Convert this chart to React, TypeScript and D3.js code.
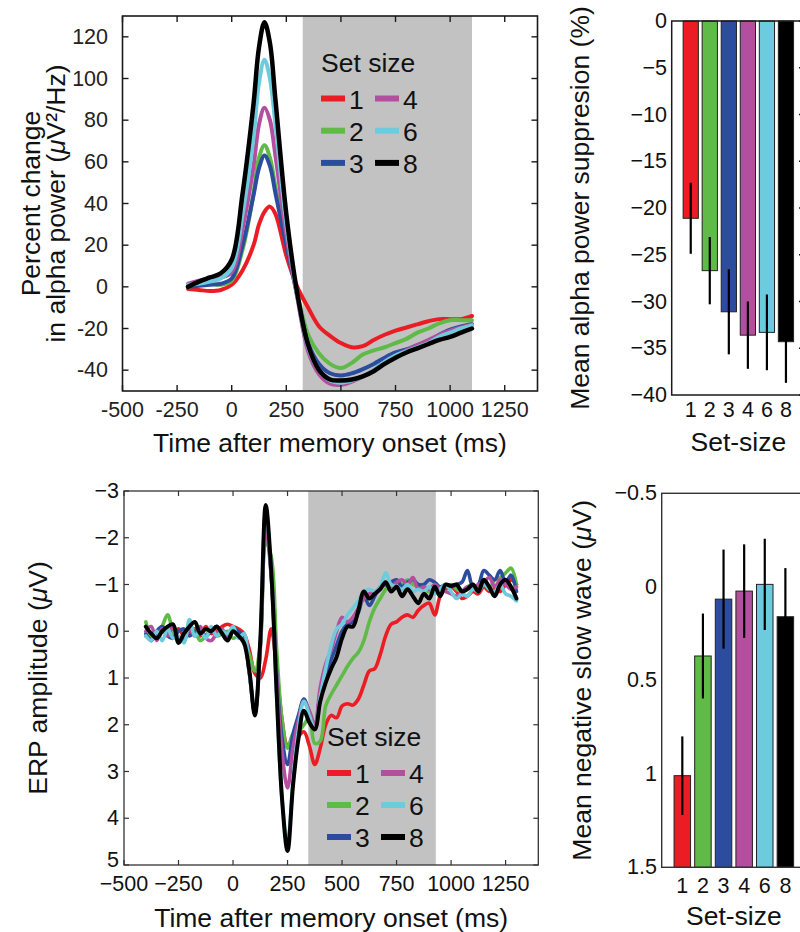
import React from 'react';
import * as d3 from 'd3';

const FONT = "'Liberation Sans', Arial, Helvetica, sans-serif";

const setSizes = ['1', '2', '3', '4', '6', '8'];
const setColors = ['#ec1c24', '#5fba47', '#2c4d9e', '#b44f9f', '#6ccbdc', '#000000'];

// ---------- Top-left: alpha power time course ----------
const alphaTimes = [-200, -150, -100, -50, 0, 50, 100, 125, 150, 175, 200, 250, 300, 350, 400, 450, 500, 550, 600, 650, 700, 750, 800, 850, 900, 950, 1000, 1050, 1100];
const alphaSet1 = [-1, -1.5, -2, -1.5, 1, 8, 20, 30, 36, 38.5, 35, 15, 0, -10, -19, -23.5, -27, -29, -28.5, -25.5, -23, -21, -19.5, -18, -16.5, -15.5, -15.5, -15.5, -14];
const alphaSet2 = [0, 1, 1.5, 1, 3, 18, 45, 62, 68, 62, 48, 22, -3, -23, -32, -37, -39, -36.5, -32.5, -30.5, -29, -27, -25, -22, -20, -17.5, -16, -16, -16];
const alphaSet3 = [0, 0.5, 1, 1.5, 4, 20, 44, 57, 63, 58, 45, 20, -4, -27, -37, -41.5, -42.5, -41.5, -39.5, -37, -34, -31.5, -30, -28, -26, -23, -20.5, -19, -18];
const alphaSet4 = [1.5, 3, 4, 4.5, 7, 28, 58, 78, 86, 80, 63, 25, -5, -31, -42, -46.5, -47, -45.5, -43, -40, -36, -33, -30.5, -28, -25.5, -23, -21, -19.5, -18];
const alphaSet6 = [1, 1.5, 2.5, 4, 9, 35, 72, 98, 109, 100, 78, 30, -4, -29, -40, -45, -46, -45, -43, -40, -36, -33, -31, -29, -27, -24, -22, -20, -18.5];
const alphaSet8 = [0, 2.5, 4.5, 6.5, 13, 45, 88, 115, 127, 117, 90, 35, -3, -28, -40, -44.5, -45, -44.5, -43, -40.5, -37, -34, -31.5, -29.5, -27.5, -25.5, -24, -22, -20];
const alphaSeries = [alphaSet1, alphaSet2, alphaSet3, alphaSet4, alphaSet6, alphaSet8];
const alphaXTicks = [-500, -250, 0, 250, 500, 750, 1000, 1250];
const alphaYTicks = [-40, -20, 0, 20, 40, 60, 80, 100, 120];
const alphaWindow = [325, 1100];

// ---------- Top-right: mean alpha suppression ----------
const alphaBarMeans = [-21.1, -26.7, -31.1, -33.6, -33.3, -34.3];
const alphaBarErrs = [3.8, 3.6, 4.55, 3.6, 4.05, 4.4];
const alphaBarYTicks = [0, -5, -10, -15, -20, -25, -30, -35, -40];

// ---------- Bottom-left: ERP ----------
const erpTimes = [-400, -375, -350, -325, -300, -275, -250, -225, -200, -175, -150, -125, -100, -75, -50, -25, 0, 25, 50,
  75, 100, 125, 150, 175, 200, 225, 250, 275, 300, 325, 350, 375, 400, 425, 450, 475, 500, 525, 550, 575, 600, 625, 650, 675,
  700, 725, 750, 775, 800, 825, 850, 875, 900, 925, 950, 975, 1000, 1025, 1050, 1075, 1100, 1125, 1150, 1175, 1200, 1225, 1250, 1275, 1300];
const erpSet1 = [0.1, 0.15, 0.05, -0.1, 0.05, 0.1, -0.05, 0.1, 0.05, -0.05, 0.1, -0.1, 0.05, 0.0, -0.1, -0.15, -0.1, -0.05, 0.05,
  0.4, 0.9, 1.0, 0.6, -0.05, 0.8, 1.9, 2.45, 2.4, 2.25, 2.15, 2.45, 2.85, 2.5, 2.0, 1.8, 1.85, 1.6, 1.55, 1.58, 1.45, 1.15, 0.85, 0.8, 0.5,
  0.1, -0.15, -0.2, -0.3, -0.35, -0.3, -0.45, -0.55, -0.6, -0.35, -0.75, -0.9, -0.95, -0.85, -0.7, -0.75, -0.85, -0.8, -0.95, -0.85, -0.9, -0.85, -1.0, -1.1, -1.0];
const erpSet2 = [-0.2, 0.1, 0.15, -0.1, -0.35, 0.0, 0.2, 0.1, -0.1, 0.0, 0.2, 0.1, -0.05, 0.1, 0.05, 0.0, 0.15, 0.1, 0.2,
  0.5, 0.85, 0.3, -1.9, -1.6, 0.4, 1.9, 2.5, 2.2, 2.15, 2.0, 1.85, 2.4, 2.35, 1.6, 1.35, 1.15, 0.95, 0.75, 0.58, 0.45, 0.2, -0.2, -0.5, -0.7,
  -0.9, -1.05, -1.1, -1.0, -1.1, -1.0, -0.95, -0.9, -0.85, -0.95, -0.9, -0.95, -1.0, -0.9, -0.85, -0.95, -1.0, -0.9, -1.05, -0.9, -1.1, -1.15, -1.25, -1.35, -1.0];
const erpSet3 = [0.05, 0.2, 0.0, -0.1, 0.1, 0.15, 0.0, -0.05, 0.1, 0.0, -0.05, 0.1, 0.0, -0.1, 0.05, 0.1, -0.05, 0.0, 0.15,
  0.9, 1.75, 0.3, -2.5, -1.2, 0.9, 2.3, 2.85, 2.2, 1.8, 1.45, 1.75, 2.1, 1.3, 0.9, 0.6, 0.3, 0.0, -0.15, -0.2, -0.4, -0.75, -0.55, -0.75, -0.95,
  -1.0, -1.05, -1.1, -0.95, -1.05, -1.1, -1.0, -1.0, -1.1, -1.05, -0.95, -1.0, -0.95, -1.0, -1.05, -1.3, -0.95, -1.0, -1.3, -1.2, -1.1, -1.3, -1.05, -1.2, -0.85];
const erpSet4 = [0.0, -0.1, 0.2, -0.05, 0.1, -0.1, 0.15, 0.2, -0.05, 0.1, -0.1, 0.15, 0.2, 0.05, -0.05, 0.15, 0.0, 0.1, 0.2,
  0.9, 1.75, 0.4, -2.2, -1.2, 1.0, 2.6, 3.35, 2.5, 1.9, 1.5, 1.7, 2.0, 1.2, 0.7, 0.4, 0.0, -0.3, -0.2, -0.3, -0.5, -0.7, -0.8, -0.85, -0.9,
  -1.05, -0.95, -1.05, -1.1, -1.0, -1.15, -0.9, -0.95, -0.9, -1.0, -0.9, -0.85, -0.8, -0.75, -0.85, -0.95, -0.9, -1.0, -1.05, -1.15, -0.95, -1.1, -1.0, -0.9, -0.95];
const erpSet6 = [0.1, 0.2, 0.0, 0.2, -0.05, 0.15, 0.1, 0.25, -0.25, 0.1, 0.0, 0.15, -0.1, 0.1, 0.0, 0.05, -0.1, 0.15, 0.05,
  0.9, 1.75, 0.3, -2.55, -1.3, 1.4, 3.6, 4.55, 3.2, 2.1, 1.5, 1.8, 2.1, 1.4, 0.8, 0.3, -0.05, -0.15, -0.35, -0.5, -0.65, -0.85, -0.9, -0.85, -0.95,
  -1.25, -1.0, -0.95, -0.9, -1.0, -0.85, -0.9, -0.85, -0.95, -0.8, -0.9, -1.0, -0.85, -0.7, -0.8, -0.75, -0.9, -0.85, -1.0, -0.9, -0.85, -1.0, -0.8, -0.75, -0.65];
const erpSet8 = [-0.1, 0.05, 0.15, 0.0, -0.1, -0.15, 0.25, 0.05, -0.1, -0.2, 0.05, -0.05, 0.0, -0.1, 0.05, 0.2, 0.0, 0.1, 0.25,
  0.85, 1.8, 0.2, -2.7, -1.3, 1.3, 3.6, 4.7, 3.3, 2.3, 1.7, 1.95, 2.1, 1.5, 1.1, 0.8, 0.55, 0.15, -0.1, -0.1, -0.45, -0.85, -0.7, -0.8, -0.9,
  -1.05, -0.85, -0.95, -0.75, -0.9, -0.75, -0.6, -0.8, -0.7, -0.95, -0.75, -1.0, -0.97, -1.0, -0.85, -0.9, -1.0, -0.85, -1.1, -0.95, -0.75, -1.0, -1.1, -0.95, -0.7];
const erpSeries = [erpSet1, erpSet2, erpSet3, erpSet4, erpSet6, erpSet8];
const erpXTicks = [-500, -250, 0, 250, 500, 750, 1000, 1250];
const erpYTicks = [-3, -2, -1, 0, 1, 2, 3, 4, 5];
const erpWindow = [345, 930];

// ---------- Bottom-right: negative slow wave ----------
const slowBarMeans = [1.01, 0.37, 0.066, 0.023, -0.013, 0.16];
const slowBarErrs = [0.21, 0.227, 0.265, 0.25, 0.244, 0.26];
const slowBarYTicks = [-0.5, 0, 0.5, 1, 1.5];

const MINUS = '\u2212';
const fmtMinus = (v: number) => (v < 0 ? MINUS + String(Math.abs(v)) : String(v));
const fmtHyphen = (v: number) => String(v);

const TICK = 21.5;
const TITLE = 26.5;
const AXIS = '#1a1a1a';

function Legend({ x, y, gap }: { x: number; y: number; gap: number }) {
  const cols = [[0, 1, 2], [3, 4, 5]];
  return (
    <g>
      <text x={x} y={y} fontSize={26.5} dominantBaseline="central" fill="#111">Set size</text>
      {cols.map((col, c) =>
        col.map((k, r) => {
          const cy = y + 36 + r * gap;
          const sx = x + c * 54;
          return (
            <g key={k}>
              <line x1={sx} x2={sx + 24} y1={cy} y2={cy} stroke={setColors[k]} strokeWidth={6} />
              <text x={sx + 28} y={cy + 1} fontSize={26.5} dominantBaseline="central" fill="#111">{setSizes[k]}</text>
            </g>
          );
        })
      )}
    </g>
  );
}

export default function App() {
  // ---- TL scales
  const xA = d3.scaleLinear().domain([-500, 1400]).range([122.5, 537.5]);
  const yA = d3.scaleLinear().domain([-50, 130]).range([391, 16]);
  const lineA = d3.line<number>().x((_, i) => xA(alphaTimes[i])).y((d) => yA(d)).curve(d3.curveCatmullRom.alpha(0.5));

  // ---- BL scales
  const xB = d3.scaleLinear().domain([-500, 1400]).range([124, 538.3]);
  const yB = d3.scaleLinear().domain([-3, 5]).range([491, 865]);
  const lineB = d3.line<number>().x((_, i) => xB(erpTimes[i])).y((d) => yB(d)).curve(d3.curveCatmullRom.alpha(0.5));

  // ---- TR scales
  const xC = d3.scaleLinear().domain([0, 7]).range([671.7, 805]);
  const yC = d3.scaleLinear().domain([-40, 0]).range([395, 21]);

  // ---- BR scales
  const xD = d3.scaleLinear().domain([0, 7]).range([661.7, 806]);
  const yD = d3.scaleLinear().domain([-0.5, 1.5]).range([493.3, 867.3]);

  const tl = 6;

  const [a0, a1] = yA.range();
  const [b0, b1] = yB.range();

  return (
    <svg width={800} height={932} style={{ position: 'absolute', left: 0, top: 0, background: '#fff' }} fontFamily={FONT}>
      {/* ================= TOP LEFT ================= */}
      <g>
        <rect x={xA(alphaWindow[0])} y={yA(130)} width={xA(alphaWindow[1]) - xA(alphaWindow[0])} height={yA(-50) - yA(130)} fill="#c2c2c2" />
        {alphaSeries.map((s, k) => (
          <path key={k} d={lineA(s) || ''} fill="none" stroke={setColors[k]} strokeWidth={k === 5 ? 4.5 : 4} strokeLinejoin="round" strokeLinecap="round" />
        ))}
        <rect x={xA(-500)} y={yA(130)} width={xA(1400) - xA(-500)} height={yA(-50) - yA(130)} fill="none" stroke={AXIS} strokeWidth={1.6} />
        {alphaXTicks.map((t) => (
          <g key={t}>
            <line x1={xA(t)} x2={xA(t)} y1={a0} y2={a0 - tl} stroke={AXIS} strokeWidth={1.4} />
            <line x1={xA(t)} x2={xA(t)} y1={a1} y2={a1 + tl} stroke={AXIS} strokeWidth={1.4} />
            <text x={xA(t)} y={410} fontSize={TICK} textAnchor="middle" dominantBaseline="central" fill="#222">{fmtHyphen(t)}</text>
          </g>
        ))}
        {alphaYTicks.map((t) => (
          <g key={t}>
            <line x1={xA(-500)} x2={xA(-500) + tl} y1={yA(t)} y2={yA(t)} stroke={AXIS} strokeWidth={1.4} />
            <line x1={xA(1400)} x2={xA(1400) - tl} y1={yA(t)} y2={yA(t)} stroke={AXIS} strokeWidth={1.4} />
            <text x={108} y={yA(t)} fontSize={TICK} textAnchor="end" dominantBaseline="central" fill="#222">{fmtHyphen(t)}</text>
          </g>
        ))}
        <text x={(xA(-500) + xA(1400)) / 2} y={443} fontSize={TITLE} textAnchor="middle" dominantBaseline="central" fill="#111">Time after memory onset (ms)</text>
        <g transform={`translate(31,${(a0 + a1) / 2}) rotate(-90)`}>
          <text x={0} y={0} fontSize={TITLE} textAnchor="middle" dominantBaseline="central" fill="#111">Percent change</text>
        </g>
        <g transform={`translate(56,${(a0 + a1) / 2}) rotate(-90)`}>
          <text x={0} y={0} fontSize={TITLE} textAnchor="middle" dominantBaseline="central" fill="#111">
            in alpha power (<tspan fontStyle="italic">μ</tspan>V²/Hz)
          </text>
        </g>
        <Legend x={321} y={62.5} gap={32.2} />
      </g>

      {/* ================= TOP RIGHT ================= */}
      <g>
        {alphaBarMeans.map((m, i) => (
          <rect key={i} x={xC(i + 1) - (xC(0.8) - xC(0)) / 2} y={yC(0)} width={xC(0.8) - xC(0)} height={yC(m) - yC(0)} fill={setColors[i]} stroke="#222" strokeWidth={1} />
        ))}
        {alphaBarMeans.map((m, i) => (
          <line key={i} x1={xC(i + 1)} x2={xC(i + 1)} y1={yC(m + alphaBarErrs[i])} y2={yC(m - alphaBarErrs[i])} stroke="#000" strokeWidth={2.2} />
        ))}
        <rect x={xC(0)} y={yC(0)} width={xC(7) - xC(0)} height={yC(-40) - yC(0)} fill="none" stroke={AXIS} strokeWidth={1.5} />
        {alphaBarYTicks.map((t) => (
          <g key={t}>
            <line x1={xC(7)} x2={xC(7) - tl} y1={yC(t)} y2={yC(t)} stroke={AXIS} strokeWidth={1.3} />
            <text x={667} y={yC(t)} fontSize={TICK} textAnchor="end" dominantBaseline="central" fill="#111">{fmtMinus(t)}</text>
          </g>
        ))}
        {setSizes.map((s, i) => (
          <text key={s} x={xC(i + 1)} y={410} fontSize={TICK} textAnchor="middle" dominantBaseline="central" fill="#111">{s}</text>
        ))}
        <text x={(xC(0) + xC(7)) / 2} y={442} fontSize={TITLE} textAnchor="middle" dominantBaseline="central" fill="#111">Set-size</text>
        <g transform={`translate(580,${(yC(0) + yC(-40)) / 2}) rotate(-90)`}>
          <text x={0} y={0} fontSize={TITLE} textAnchor="middle" dominantBaseline="central" fill="#111">Mean alpha power suppresion (%)</text>
        </g>
      </g>

      {/* ================= BOTTOM LEFT ================= */}
      <g>
        <rect x={xB(erpWindow[0])} y={yB(-3)} width={xB(erpWindow[1]) - xB(erpWindow[0])} height={yB(5) - yB(-3)} fill="#c2c2c2" />
        {erpSeries.map((s, k) => (
          <path key={k} d={lineB(s) || ''} fill="none" stroke={setColors[k]} strokeWidth={k === 5 ? 4 : 3.6} strokeLinejoin="round" strokeLinecap="round" />
        ))}
        <rect x={xB(-500)} y={yB(-3)} width={xB(1400) - xB(-500)} height={yB(5) - yB(-3)} fill="none" stroke="#333" strokeWidth={1.3} />
        {erpXTicks.map((t) => (
          <g key={t}>
            <line x1={xB(t)} x2={xB(t)} y1={b1} y2={b1 - 5} stroke="#333" strokeWidth={1.2} />
            <line x1={xB(t)} x2={xB(t)} y1={b0} y2={b0 + 5} stroke="#333" strokeWidth={1.2} />
            <text x={xB(t)} y={884} fontSize={TICK} textAnchor="middle" dominantBaseline="central" fill="#111">{fmtMinus(t)}</text>
          </g>
        ))}
        {erpYTicks.map((t) => (
          <g key={t}>
            <line x1={xB(-500)} x2={xB(-500) + 5} y1={yB(t)} y2={yB(t)} stroke="#333" strokeWidth={1.2} />
            <line x1={xB(1400)} x2={xB(1400) - 5} y1={yB(t)} y2={yB(t)} stroke="#333" strokeWidth={1.2} />
            <text x={119} y={yB(t) - (t === 5 ? 5 : 0)} fontSize={TICK} textAnchor="end" dominantBaseline="central" fill="#111">{fmtMinus(t)}</text>
          </g>
        ))}
        <text x={(xB(-500) + xB(1400)) / 2} y={918} fontSize={TITLE} textAnchor="middle" dominantBaseline="central" fill="#111">Time after memory onset (ms)</text>
        <g transform={`translate(38,${(b0 + b1) / 2}) rotate(-90)`}>
          <text x={0} y={0} fontSize={TITLE} textAnchor="middle" dominantBaseline="central" fill="#111">
            ERP amplitude (<tspan fontStyle="italic">μ</tspan>V)
          </text>
        </g>
        <Legend x={327} y={737} gap={32} />
      </g>

      {/* ================= BOTTOM RIGHT ================= */}
      <g>
        {slowBarMeans.map((m, i) => (
          <rect key={i} x={xD(i + 1) - (xD(0.8) - xD(0)) / 2} y={yD(m)} width={xD(0.8) - xD(0)} height={yD(1.5) - yD(m)} fill={setColors[i]} stroke="#222" strokeWidth={1} />
        ))}
        {slowBarMeans.map((m, i) => (
          <line key={i} x1={xD(i + 1)} x2={xD(i + 1)} y1={yD(m - slowBarErrs[i])} y2={yD(m + slowBarErrs[i])} stroke="#000" strokeWidth={2.2} />
        ))}
        <rect x={xD(0)} y={yD(-0.5)} width={xD(7) - xD(0)} height={yD(1.5) - yD(-0.5)} fill="none" stroke="#333" strokeWidth={1.4} />
        {slowBarYTicks.map((t) => (
          <g key={t}>
            <line x1={xD(7)} x2={xD(7) - tl} y1={yD(t)} y2={yD(t)} stroke="#333" strokeWidth={1.2} />
            <text x={657} y={yD(t)} fontSize={TICK} textAnchor="end" dominantBaseline="central" fill="#111">{fmtMinus(t)}</text>
          </g>
        ))}
        {setSizes.map((s, i) => (
          <text key={s} x={xD(i + 1)} y={886} fontSize={TICK} textAnchor="middle" dominantBaseline="central" fill="#111">{s}</text>
        ))}
        <text x={(xD(0) + xD(7)) / 2} y={916} fontSize={TITLE} textAnchor="middle" dominantBaseline="central" fill="#111">Set-size</text>
        <g transform={`translate(582,${(yD(-0.5) + yD(1.5)) / 2}) rotate(-90)`}>
          <text x={0} y={0} fontSize={TITLE} textAnchor="middle" dominantBaseline="central" fill="#111">
            Mean negative slow wave (<tspan fontStyle="italic">μ</tspan>V)
          </text>
        </g>
      </g>
    </svg>
  );
}
